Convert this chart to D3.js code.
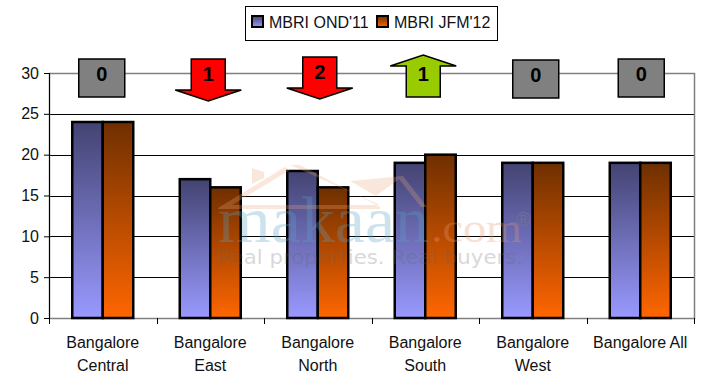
<!DOCTYPE html>
<html>
<head>
<meta charset="utf-8">
<script src="https://cdn.jsdelivr.net/npm/d3@7/dist/d3.min.js"></script>
<style>
  html, body { margin: 0; padding: 0; background: #fff; }
  svg { display: block; font-family: "Liberation Sans", Arial, sans-serif; }
</style>
</head>
<body>
<div id="chart"></div>
<script>
const categories = [["Bangalore", "Central"], ["Bangalore", "East"], ["Bangalore", "North"], ["Bangalore", "South"], ["Bangalore", "West"], ["Bangalore All"]];
const seriesNames = ["MBRI OND'11", "MBRI JFM'12"];
const ond11 = [24, 17, 18, 19, 19, 19];
const jfm12 = [24, 16, 16, 20, 19, 19];
const changes = [0, -1, -2, 1, 0, 0];
const yTicks = [0, 5, 10, 15, 20, 25, 30];

const width = 713, height = 390;
const margin = { top: 73, right: 19, bottom: 72, left: 49 };
const innerW = width - margin.left - margin.right;
const innerH = height - margin.top - margin.bottom;

const svg = d3.select("#chart").append("svg")
    .attr("width", width)
    .attr("height", height);

const defs = svg.append("defs");
const addGrad = (id, top, bottom) => {
    const g = defs.append("linearGradient").attr("id", id)
        .attr("x1", 0).attr("y1", 0).attr("x2", 0).attr("y2", 1);
    g.append("stop").attr("offset", "0%").attr("stop-color", top);
    g.append("stop").attr("offset", "100%").attr("stop-color", bottom);
};
addGrad("gradBlue", "#434372", "#9999ff");
addGrad("gradOrange", "#6f2f00", "#ff6600");

const chart = svg.append("g").attr("transform", `translate(${margin.left},${margin.top})`);

const x = d3.scaleBand().domain(d3.range(categories.length)).range([0, innerW]);
const y = d3.scaleLinear().domain([0, 30]).range([innerH, 0]);
const barW = 30.5;

// gridlines
chart.selectAll(".grid")
    .data(yTicks.slice(1, -1))
    .enter().append("line")
    .attr("x1", 0).attr("x2", innerW)
    .attr("y1", d => Math.round(y(d)) + 0.5).attr("y2", d => Math.round(y(d)) + 0.5)
    .attr("stroke", "#000");

// plot border
chart.append("path")
    .attr("d", `M0.5,${innerH + 0.5}V0.5H${innerW + 0.5}V${innerH + 0.5}Z`)
    .attr("fill", "none")
    .attr("stroke", "#808080")
    .attr("stroke-width", 1.5);

// axes
const axisY = chart.append("g")
    .call(d3.axisLeft(y).tickValues(yTicks).tickSize(5).tickPadding(5));
axisY.select(".domain").attr("stroke", "#000").attr("d", `M0.5,${innerH}V0`);
axisY.selectAll("text").style("font-size", "16px").attr("fill", "#111");

const axisX = chart.append("g").attr("transform", `translate(0,${innerH})`);
axisX.selectAll(".cattick")
    .data(d3.range(categories.length + 1))
    .enter().append("line")
    .attr("x1", d => Math.round(d * x.bandwidth()) + 0.5)
    .attr("x2", d => Math.round(d * x.bandwidth()) + 0.5)
    .attr("y1", 0).attr("y2", 6)
    .attr("stroke", "#000");

axisX.selectAll(".cat")
    .data(categories)
    .enter().append("text")
    .attr("text-anchor", "middle")
    .style("font-size", "16px")
    .attr("fill", "#111")
    .attr("transform", (d, i) => `translate(${x(i) + x.bandwidth() / 2},0)`)
    .selectAll("tspan")
    .data(d => d)
    .enter().append("tspan")
    .attr("x", 0)
    .attr("y", (d, i) => 30 + i * 23)
    .text(d => d);

// bars
const drawBars = (values, cls, grad, offset) => {
    chart.selectAll("." + cls)
        .data(values)
        .enter().append("rect")
        .attr("class", cls)
        .attr("x", (d, i) => x(i) + x.bandwidth() / 2 + offset)
        .attr("y", d => y(d))
        .attr("width", barW)
        .attr("height", d => innerH - y(d))
        .attr("fill", `url(#${grad})`)
        .attr("stroke", "#000")
        .attr("stroke-width", 2.5);
};
drawBars(ond11, "barA", "gradBlue", -barW);
drawBars(jfm12, "barB", "gradOrange", 0);

// watermark over the bars
const mark = svg.append("g").attr("pointer-events", "none");
const housePaths = [
    "M218,208L285,167L290,170L232,205H380L290,165L300,165L380,207V209H218Z",
    "M252,168L264,172V178L252,184Z",
    "M350,181L403,176L376,196Z",
    "M403,176L427,207L421,207L399,179Z"
];
mark.selectAll(".house")
    .data(housePaths)
    .enter().append("path")
    .attr("d", d => d)
    .attr("fill", "#eda67e").attr("opacity", 0.27);
mark.append("text").attr("x", 218).attr("y", 242)
    .style("font-family", "'Liberation Serif', serif")
    .style("font-size", "65px")
    .attr("fill", "#5aa5c8").attr("opacity", 0.3)
    .attr("textLength", 211).attr("lengthAdjust", "spacingAndGlyphs")
    .text("makaan");
mark.append("text").attr("x", 431).attr("y", 242)
    .style("font-family", "'Liberation Serif', serif")
    .style("font-size", "42px")
    .attr("fill", "#e89a70").attr("opacity", 0.3)
    .attr("textLength", 91).attr("lengthAdjust", "spacingAndGlyphs")
    .text(".com");
mark.append("text").attr("x", 516).attr("y", 226)
    .style("font-size", "20px")
    .attr("fill", "#888").attr("opacity", 0.4)
    .text("®");
mark.append("text").attr("x", 217).attr("y", 264)
    .style("font-family", "'DejaVu Sans', sans-serif")
    .style("font-size", "20px")
    .attr("fill", "#666").attr("opacity", 0.25)
    .attr("textLength", 306).attr("lengthAdjust", "spacingAndGlyphs")
    .text("Real properties. Real buyers.");

// change markers on the top gridline
const markerDx = [-1, -2, 2, -2, 3, 1];
const markerDy = [5, 5, 3, 5, 6, 5];
const box = "M-23,-19H23V19H-23Z";
const down = "M-17,-19H17V12H33L0,23L-33,12H-17Z";
const up = "M-17,19H17V-12H33L0,-23L-33,-12H-17Z";
const markerFill = d => d === 0 ? "#808080" : d < 0 ? "#ff0000" : "#99cc00";
const markerPath = d => d === 0 ? box : d < 0 ? down : up;
const markerG = chart.selectAll(".marker")
    .data(changes)
    .enter().append("g")
    .attr("class", "marker")
    .attr("transform", (d, i) => `translate(${x(i) + x.bandwidth() / 2 + markerDx[i]},${y(30) + markerDy[i]})`);
markerG.append("path")
    .attr("d", markerPath)
    .attr("fill", markerFill)
    .attr("stroke", "#000")
    .attr("stroke-width", 1.5);
markerG.append("text")
    .attr("text-anchor", "middle")
    .attr("y", 3)
    .style("font-size", "20px")
    .style("font-weight", "bold")
    .text(d => Math.abs(d));

// legend
const legend = svg.append("g");
legend.append("rect")
    .attr("x", 245.5).attr("y", 6.5).attr("width", 252).attr("height", 34)
    .attr("fill", "#fff").attr("stroke", "#000");
const legendX = [252, 377];
const legendG = legend.selectAll(".item")
    .data(seriesNames)
    .enter().append("g")
    .attr("class", "item")
    .attr("transform", (d, i) => `translate(${legendX[i]},16)`);
legendG.append("rect")
    .attr("width", 11).attr("height", 11)
    .attr("fill", (d, i) => i === 0 ? "url(#gradBlue)" : "url(#gradOrange)")
    .attr("stroke", "#000").attr("stroke-width", 2);
legendG.append("text")
    .attr("x", 17).attr("y", 11.5)
    .style("font-size", "16px")
    .attr("fill", "#111")
    .text(d => d);
</script>
</body>
</html>
